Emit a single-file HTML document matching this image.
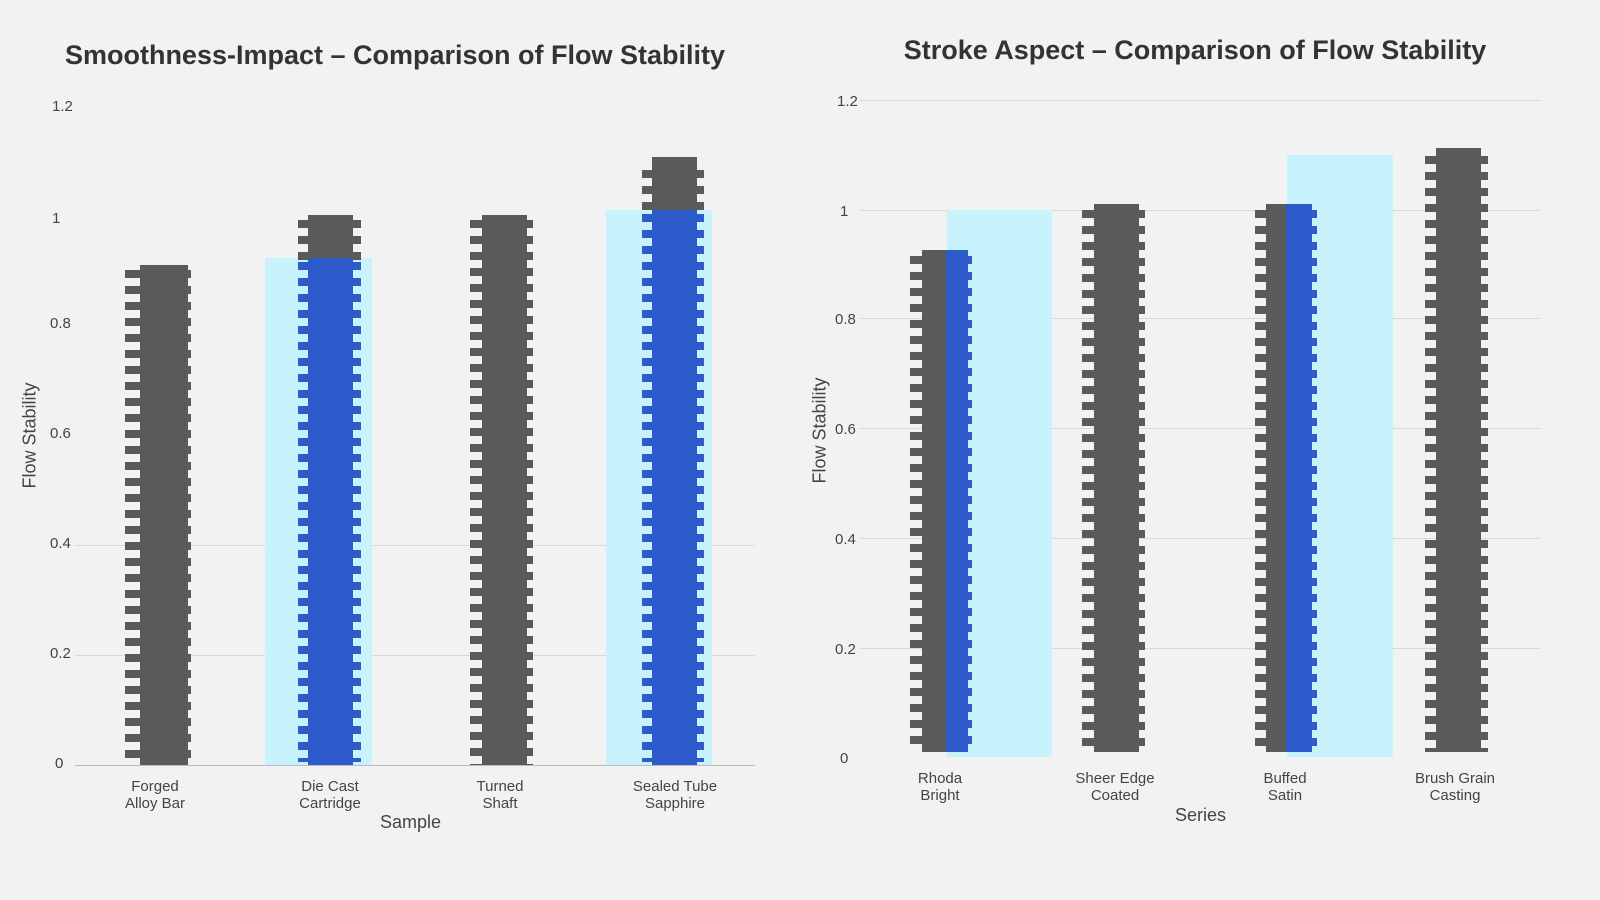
<!DOCTYPE html><html><head><style>
body{margin:0;width:1600px;height:900px;background:#f2f2f2;position:relative;overflow:hidden;font-family:"Liberation Sans",sans-serif;color:#444}
div{position:absolute}
.g{height:1px;background:#d8d8d8}
.c{background:#c8f3fd}
.d{background:#5a5a5a}
.b{background:#2e5bcc}
.st{background:repeating-linear-gradient(#5a5a5a 0 8px,transparent 8px 16px)}
.sb{background:repeating-linear-gradient(#2e5bcc 0 8px,transparent 8px 16px)}
.t{font-size:15px;text-align:center}
.y{font-size:15px}
</style></head><body>
<div style="left:0;top:40px;width:790px;text-align:center;font-size:27px;font-weight:bold;color:#333">Smoothness-Impact – Comparison of Flow Stability</div>
<div style="left:800px;top:35px;width:790px;text-align:center;font-size:27px;font-weight:bold;color:#333">Stroke Aspect – Comparison of Flow Stability</div>
<!-- left grid -->
<div class="g" style="left:75px;top:545px;width:680px"></div>
<div class="g" style="left:75px;top:655px;width:680px"></div>
<div class="g" style="left:75px;top:765px;width:680px;background:#bbb"></div>
<div class="y" style="left:52px;top:98px">1.2</div><div class="y" style="left:52px;top:210px">1</div><div class="y" style="left:50px;top:315px">0.8</div><div class="y" style="left:50px;top:425px">0.6</div><div class="y" style="left:50px;top:535px">0.4</div><div class="y" style="left:50px;top:645px">0.2</div><div class="y" style="left:55px;top:755px">0</div>
<div style="left:-40px;top:425px;width:140px;transform:rotate(-90deg);font-size:18px;text-align:center">Flow Stability</div>
<!-- left bars -->
<div class="d" style="left:140px;top:265px;width:48px;height:500px"></div>
<div class="st" style="left:125px;top:270px;width:66px;height:495px"></div>
<div class="c" style="left:265px;top:258px;width:107px;height:507px"></div>
<div class="d" style="left:308px;top:215px;width:45px;height:45px"></div>
<div class="st" style="left:298px;top:220px;width:63px;height:40px"></div>
<div class="b" style="left:308px;top:258px;width:45px;height:507px"></div>
<div class="sb" style="left:298px;top:262px;width:63px;height:500px"></div>
<div class="d" style="left:482px;top:215px;width:45px;height:550px"></div>
<div class="st" style="left:470px;top:220px;width:63px;height:545px"></div>
<div class="c" style="left:606px;top:210px;width:106px;height:555px"></div>
<div class="d" style="left:652px;top:157px;width:45px;height:55px"></div>
<div class="st" style="left:642px;top:170px;width:62px;height:40px"></div>
<div class="b" style="left:652px;top:210px;width:45px;height:555px"></div>
<div class="sb" style="left:642px;top:214px;width:62px;height:548px"></div>
<div class="t" style="left:95px;top:778px;width:120px">Forged<br>Alloy Bar</div>
<div class="t" style="left:270px;top:778px;width:120px">Die Cast<br>Cartridge</div>
<div class="t" style="left:440px;top:778px;width:120px">Turned<br>Shaft</div>
<div class="t" style="left:610px;top:778px;width:130px">Sealed Tube<br>Sapphire</div>
<div style="left:380px;top:812px;font-size:18px">Sample</div>
<!-- right grid -->
<div class="g" style="left:860px;top:100px;width:680px"></div>
<div class="g" style="left:860px;top:210px;width:680px"></div>
<div class="g" style="left:860px;top:318px;width:680px"></div>
<div class="g" style="left:860px;top:428px;width:680px"></div>
<div class="g" style="left:860px;top:538px;width:680px"></div>
<div class="g" style="left:860px;top:648px;width:680px"></div>
<div class="y" style="left:837px;top:93px">1.2</div><div class="y" style="left:840px;top:203px">1</div><div class="y" style="left:835px;top:311px">0.8</div><div class="y" style="left:835px;top:421px">0.6</div><div class="y" style="left:835px;top:531px">0.4</div><div class="y" style="left:835px;top:641px">0.2</div><div class="y" style="left:840px;top:750px">0</div>
<div style="left:750px;top:420px;width:140px;transform:rotate(-90deg);font-size:18px;text-align:center">Flow Stability</div>
<!-- right bars -->
<div class="c" style="left:947px;top:210px;width:105px;height:547px"></div>
<div class="d" style="left:922px;top:250px;width:25px;height:502px"></div>
<div class="st" style="left:910px;top:256px;width:40px;height:496px"></div>
<div class="b" style="left:946px;top:250px;width:22px;height:502px"></div>
<div class="sb" style="left:946px;top:256px;width:26px;height:496px"></div>
<div class="d" style="left:1094px;top:204px;width:45px;height:548px"></div>
<div class="st" style="left:1082px;top:210px;width:63px;height:542px"></div>
<div class="c" style="left:1287px;top:155px;width:106px;height:602px"></div>
<div class="d" style="left:1266px;top:204px;width:22px;height:548px"></div>
<div class="st" style="left:1255px;top:210px;width:35px;height:542px"></div>
<div class="b" style="left:1286px;top:204px;width:26px;height:548px"></div>
<div class="sb" style="left:1286px;top:210px;width:31px;height:542px"></div>
<div class="d" style="left:1436px;top:148px;width:45px;height:604px"></div>
<div class="st" style="left:1425px;top:156px;width:63px;height:596px"></div>
<div class="t" style="left:880px;top:770px;width:120px">Rhoda<br>Bright</div>
<div class="t" style="left:1055px;top:770px;width:120px">Sheer Edge<br>Coated</div>
<div class="t" style="left:1225px;top:770px;width:120px">Buffed<br>Satin</div>
<div class="t" style="left:1395px;top:770px;width:120px">Brush Grain<br>Casting</div>
<div style="left:1175px;top:805px;font-size:18px">Series</div>
</body></html>
